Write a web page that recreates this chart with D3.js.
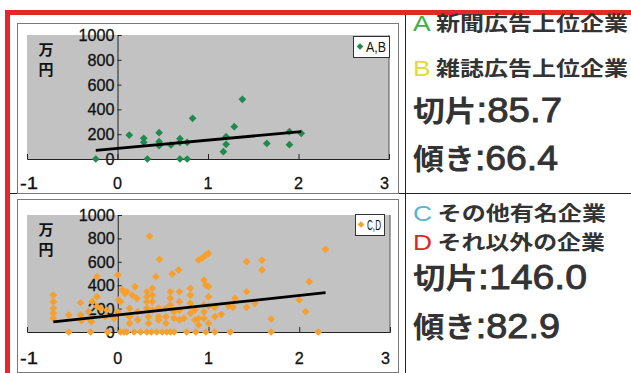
<!DOCTYPE html>
<html><head><meta charset="utf-8">
<script src="https://cdn.jsdelivr.net/npm/d3@7"></script>
<style>body{margin:0;background:#fff}svg{display:block}</style>
</head><body>
<svg id="c" width="631" height="373"></svg>
<script>
// ---- data ----
const xTicks = [-1, 0, 1, 2, 3];
const yTicks = [0, 200, 400, 600, 800, 1000];
const yUnit = ["万", "円"];

const abX = [-0.24,0.13,0.29,0.29,0.33,0.46,0.46,0.46,0.59,0.69,0.69,0.69,0.77,0.77,0.83,1.17,1.20,1.20,1.29,1.38,1.65,1.90,1.90,2.03];
const abY = [0,193,167,135,0,212,140,107,113,164,135,0,135,0,328,59,180,118,261,481,126,220,115,207];
const abIntercept = 85.7, abSlope = 66.4;

const cdX = [
 -0.71,-0.71,-0.71,-0.71,-0.71,-0.54,-0.54,-0.41,-0.41,-0.40,-0.30,-0.28,-0.29,-0.23,-0.23,-0.23,
 -0.14,-0.12,-0.11,-0.04,0.00,0.01,0.00,0.03,0.07,0.05,0.08,-0.32,-0.19,-0.30,0.03,
 0.10,0.16,0.21,0.19,0.13,0.13,0.13,0.22,0.22,0.32,0.32,0.32,0.32,0.34,0.34,0.35,
 0.38,0.38,0.38,0.38,0.42,0.45,0.45,0.45,0.46,0.53,0.53,0.53,0.58,0.58,0.58,0.60,
 0.62,0.62,0.67,0.68,0.68,0.68,0.68,0.73,0.80,0.80,0.80,0.80,0.85,0.85,0.89,0.93,0.97,
 0.89,0.89,0.95,0.97,0.95,0.95,0.95,
 0.10,0.18,0.25,0.32,0.37,0.43,0.49,0.54,0.58,0.62,0.76,0.86,0.97,
 1.00,1.00,1.00,1.00,1.00,1.07,1.07,1.07,1.14,1.22,1.27,1.29,1.24,1.42,1.42,1.42,1.51,
 1.59,1.59,1.69,1.69,2.00,2.07,2.11,2.21,2.29];
const cdY = [
 316,259,202,160,117,145,0,250,145,97,0,259,88,473,302,217,
 131,188,0,117,487,274,174,0,0,359,330,174,202,103,259,
 344,316,288,387,202,131,74,174,103,344,302,259,202,131,74,820,
 373,316,259,188,473,202,131,103,621,202,131,74,344,288,231,496,
 174,117,530,344,259,188,103,117,373,316,245,160,188,103,615,632,658,
 117,60,444,400,231,174,117,
 0,0,0,0,0,0,0,0,0,0,0,0,0,
 672,387,302,222,74,211,131,0,151,222,211,288,0,601,344,211,245,
 615,530,111,0,274,174,430,0,707];
const cdIntercept = 146.0, cdSlope = 82.9;

const svg = d3.select("#c");
const RED = "#e5262b";
const NUMF = "Liberation Sans, Arial, sans-serif";
const JPF = "Noto Sans CJK JP, sans-serif";

// frame
svg.append("rect").attr("x",5).attr("y",10).attr("width",626).attr("height",5).attr("fill",RED);
svg.append("rect").attr("x",5).attr("y",10).attr("width",5).attr("height",363).attr("fill",RED);
svg.append("line").attr("x1",405.5).attr("x2",405.5).attr("y1",15).attr("y2",373).attr("stroke","#222").attr("stroke-width",1);
svg.append("line").attr("x1",10).attr("x2",631).attr("y1",193.5).attr("y2",193.5).attr("stroke","#222").attr("stroke-width",1);

function chart(o){
  const g = svg.append("g");
  g.append("rect").attr("x",o.box[0]+0.5).attr("y",o.box[1]+0.5).attr("width",o.box[2]).attr("height",o.box[3])
    .attr("fill","#fff").attr("stroke","#7a7a7a");
  const x = d3.scaleLinear().domain([-1,3]).range([o.px0,o.px1]);
  const y = d3.scaleLinear().domain([0,1000]).range([o.py0,o.py1]);
  g.append("rect").attr("x",o.px0).attr("y",o.py1).attr("width",o.px1-o.px0).attr("height",o.py0-o.py1)
    .attr("fill","#c2c2c2");
  g.append("line").attr("x1",o.px1).attr("x2",o.px1).attr("y1",o.py1).attr("y2",o.py0).attr("stroke","#555");
  // y axis at x=0
  const ya = g.append("g").attr("transform",`translate(${x(0)},0)`)
    .call(d3.axisRight(y).tickValues(yTicks).tickSize(4).tickFormat(""));
  ya.select(".domain").attr("stroke","#222");
  ya.selectAll(".tick line").attr("stroke","#222");
  g.selectAll(".ylab").data(yTicks).join("text")
    .attr("x",x(0)-3).attr("y",d=>y(d)+6).attr("text-anchor","end")
    .attr("font-family",NUMF).attr("font-size",17).attr("fill","#111")
    .attr("stroke","#111").attr("stroke-width",0.3)
    .attr("textLength",d=>String(d).length*9).attr("lengthAdjust","spacingAndGlyphs")
    .text(d=>d);
  // x axis at y=0
  const xa = g.append("g").attr("transform",`translate(0,${y(0)})`)
    .call(d3.axisTop(x).tickValues(xTicks).tickSize(5).tickFormat(""));
  xa.select(".domain").attr("stroke","#222");
  xa.selectAll(".tick line").attr("stroke","#222");
  g.selectAll(".xlab").data(xTicks).join("text")
    .attr("x",d=>x(d)+(d===-1?-7:0)).attr("y",o.xly).attr("text-anchor",d=>d===-1?"start":(d===3?"end":"middle"))
    .attr("font-family",NUMF).attr("font-size",17).attr("fill","#111")
    .attr("stroke","#111").attr("stroke-width",0.3)
    .attr("textLength",d=>String(d).length*9).attr("lengthAdjust","spacingAndGlyphs")
    .text(d=>d);
  // unit label
  g.selectAll(".unit").data(yUnit).join("text")
    .attr("x",o.px0+19).attr("y",(d,i)=>o.py1+20+i*20).attr("text-anchor","middle")
    .attr("font-family",JPF).attr("font-weight","bold").attr("font-size",15).attr("fill","#111")
    .text(d=>d);
  // points
  const sym = d3.symbol().type(d3.symbolSquare).size(30);
  const pts = o.xs.map((v,i)=>[v,o.ys[i]]);
  g.selectAll(".pt").data(pts).join("path")
    .attr("d",sym).attr("fill",o.color)
    .attr("transform",d=>`translate(${x(d[0])},${y(d[1])}) rotate(45)`);
  // trend line
  const [mn,mx] = d3.extent(o.xs);
  const line = d3.line().x(d=>x(d)).y(d=>y(o.b+o.m*d));
  g.append("path").attr("d",line([mn,mx])).attr("stroke","#000").attr("stroke-width",2.8).attr("fill","none");
  // legend
  const L = o.leg;
  g.append("rect").attr("x",L[0]+0.5).attr("y",L[1]+0.5).attr("width",L[2]).attr("height",L[3]).attr("fill","#fff").attr("stroke","#333");
  g.append("path").attr("d",d3.symbol().type(d3.symbolSquare).size(22)).attr("fill",o.color)
    .attr("transform",`translate(${L[0]+L[4]},${L[1]+L[3]/2}) rotate(45)`);
  g.append("text").attr("x",L[0]+L[4]+6).attr("y",L[1]+L[3]/2+5.5)
    .attr("font-family",NUMF).attr("font-size",15).attr("fill","#111")
    .attr("textLength",L[5]).attr("lengthAdjust","spacingAndGlyphs")
    .text(o.name);
}

chart({box:[17,23,381,170], px0:27, px1:389, py0:159, py1:35, xly:189,
  xs:abX, ys:abY, b:abIntercept, m:abSlope, color:"#1f8a4d", name:"A,B", leg:[353,36,36,21,7,20]});
chart({box:[17,199,381,173], px0:27, px1:390, py0:332, py1:215, xly:364,
  xs:cdX, ys:cdY, b:cdIntercept, m:cdSlope, color:"#f5a02f", name:"C,D", leg:[355,214,29,21,6,14]});

// right panel text
const rows = [
  {y:31, letter:"A", lc:"#3fae49", text:" 新聞広告上位企業", w:215},
  {y:76, letter:"B", lc:"#e3da3a", text:" 雑誌広告上位企業", w:215},
  {y:221, letter:"C", lc:"#52b7cf", text:" その他有名企業", w:193},
  {y:250, letter:"D", lc:"#e02323", text:" それ以外の企業", w:192}
];
rows.forEach(r=>{
  const t = svg.append("text").attr("x",413).attr("y",r.y)
    .attr("font-family",NUMF).attr("textLength",r.w).attr("lengthAdjust","spacingAndGlyphs");
  t.append("tspan").attr("fill",r.lc).attr("font-size",22).text(r.letter);
  t.append("tspan").attr("fill","#333").attr("font-weight","bold").attr("font-family",JPF).attr("font-size",20).text(r.text);
});
const big = [
  {y:122, label:"切片", val:":85.7", w:149},
  {y:170, label:"傾き", val:":66.4", w:145},
  {y:289, label:"切片", val:":146.0", w:174},
  {y:338, label:"傾き", val:":82.9", w:147}
];
big.forEach(r=>{
  const t = svg.append("text").attr("x",413).attr("y",r.y).attr("fill","#333")
    .attr("font-family",NUMF).attr("textLength",r.w).attr("lengthAdjust","spacingAndGlyphs");
  t.append("tspan").attr("font-weight","bold").attr("font-family",JPF).attr("font-size",29).text(r.label);
  t.append("tspan").attr("font-size",35).attr("stroke","#333").attr("stroke-width",0.9).text(r.val);
});
</script>
</body></html>
